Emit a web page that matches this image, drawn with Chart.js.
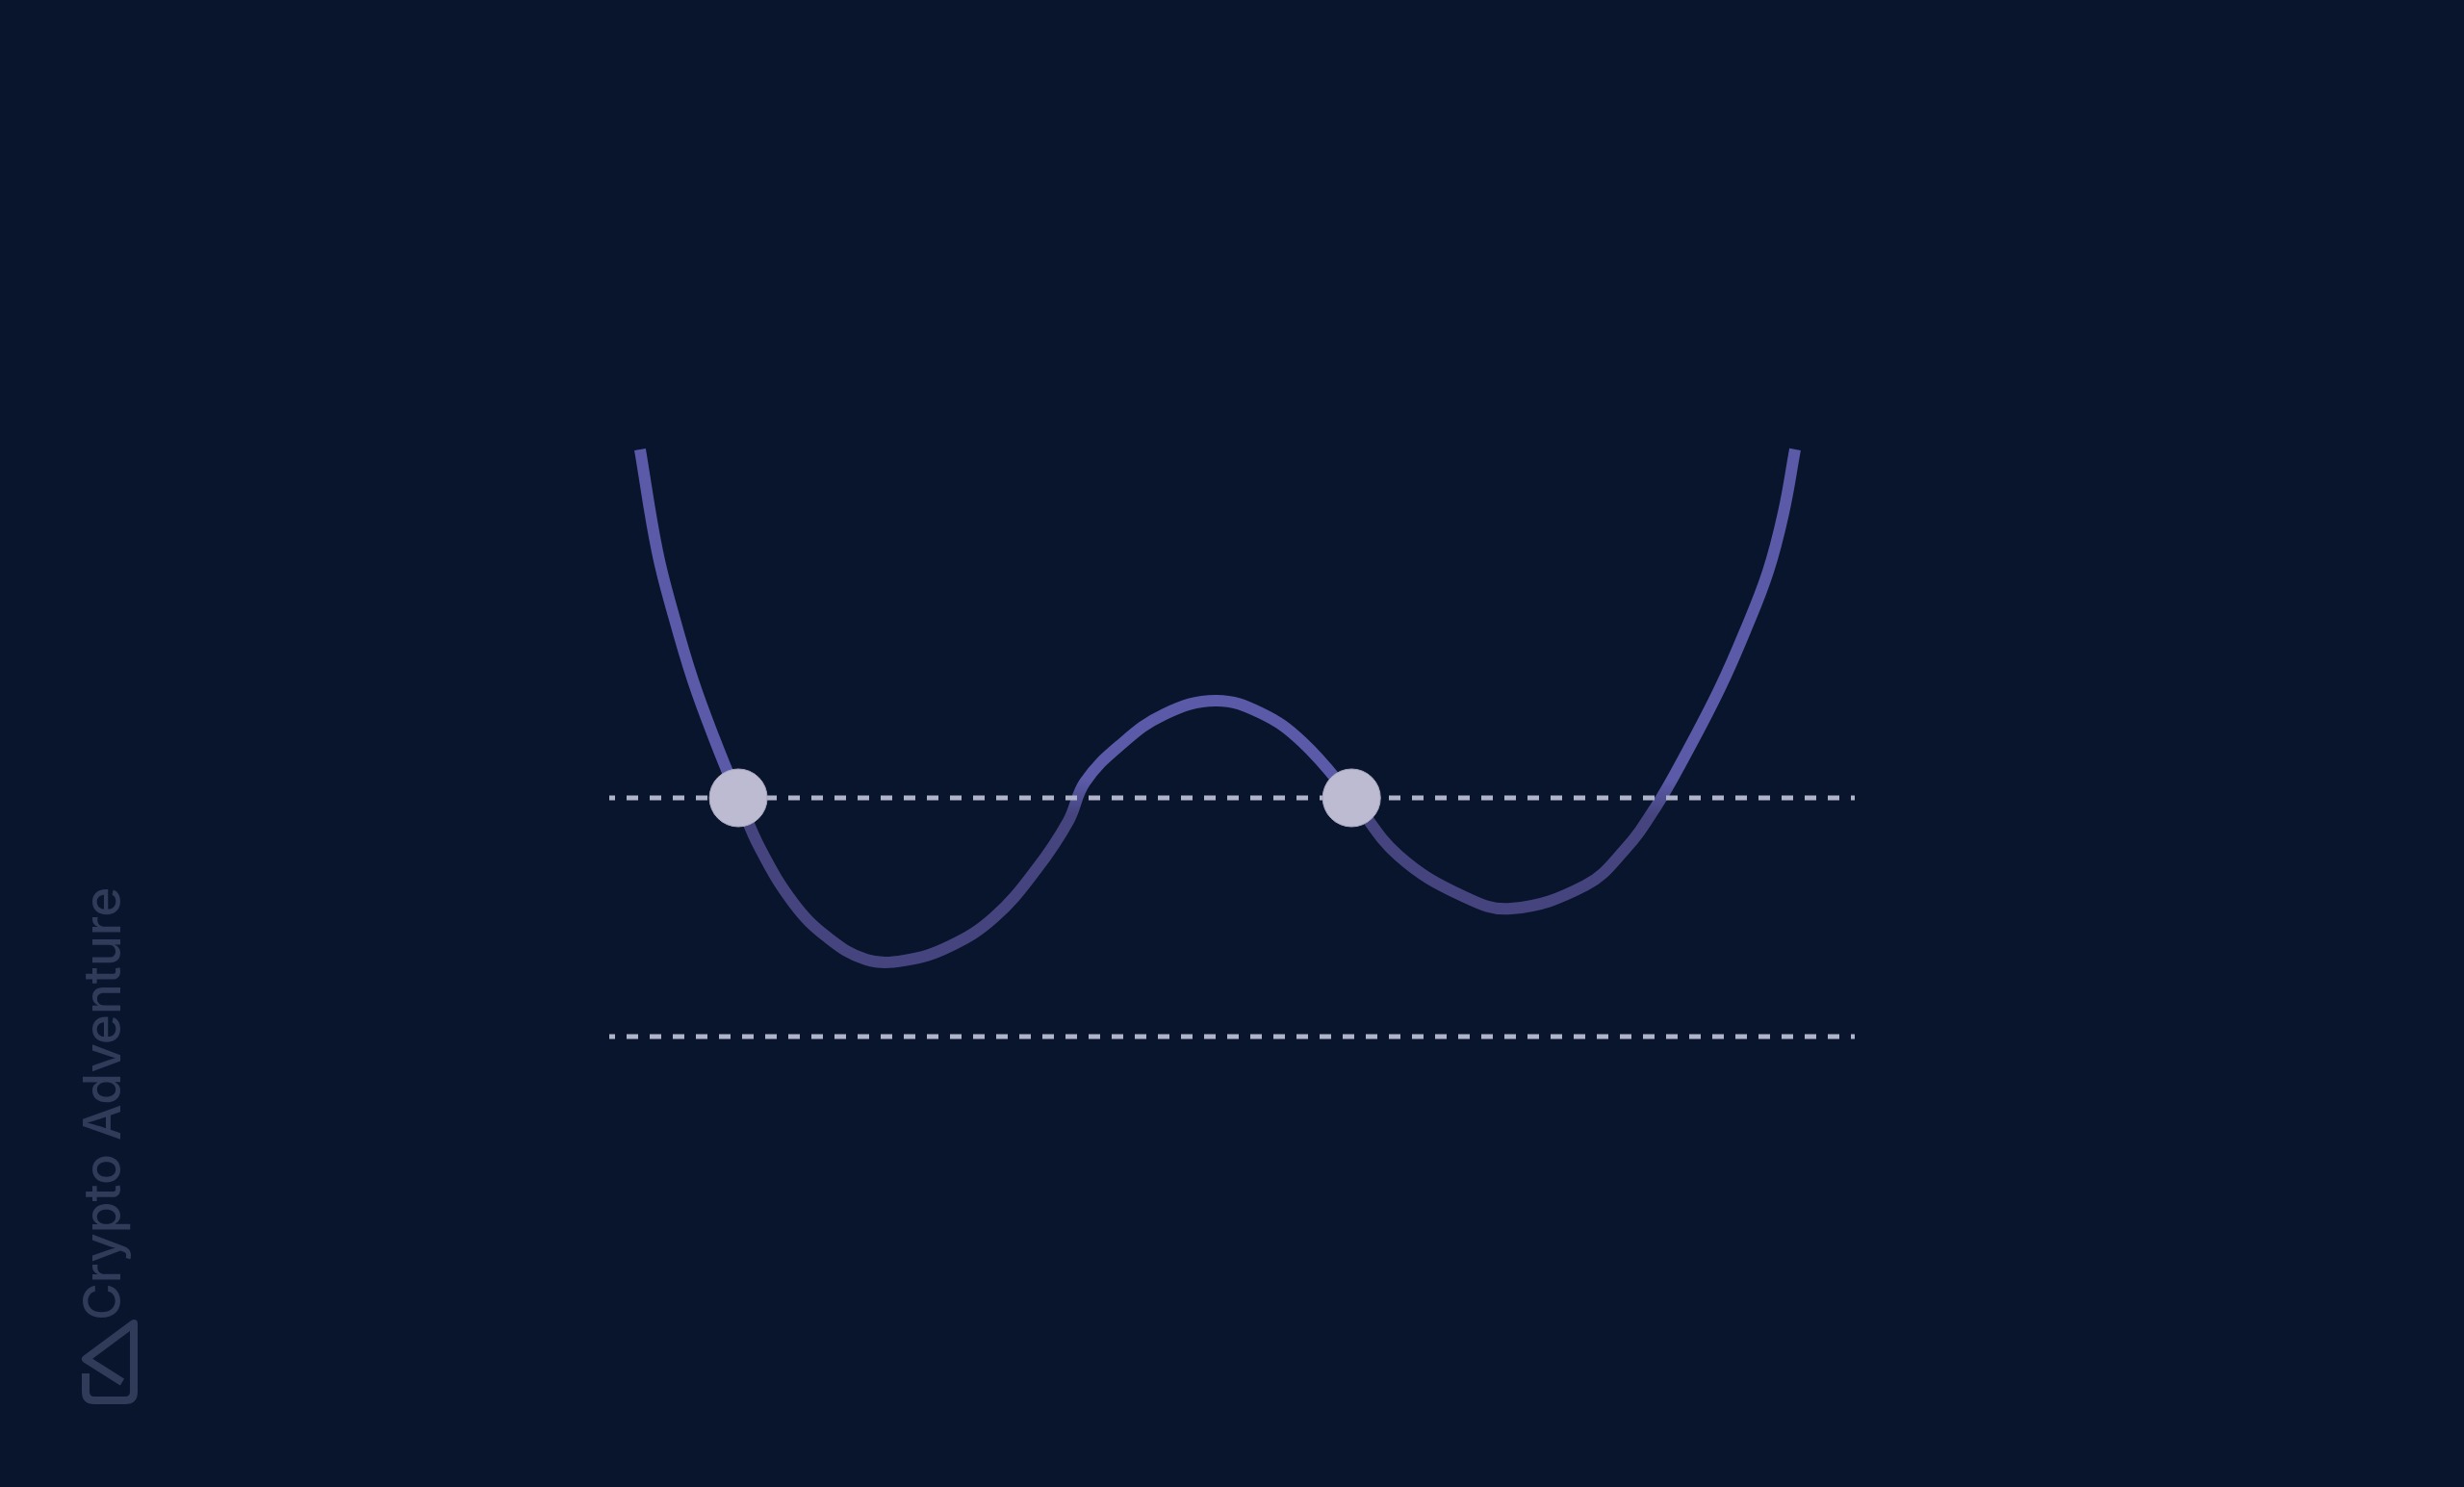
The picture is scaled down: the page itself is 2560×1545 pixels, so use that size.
<!DOCTYPE html>
<html lang="en">
<head>
  <meta charset="UTF-8">
  <title>Double Well</title>
  <script src="https://cdn.jsdelivr.net/npm/chart.js"></script>
  <style>
    html, body {
      margin: 0;
      padding: 0;
      background: #08152d;
      overflow: hidden;
    }
    .wrap {
      width: 2560px;
      height: 1545px;
      position: relative;
    }
  </style>
</head>
<body>
  <div class="wrap">
    <canvas id="wellChart"></canvas>
  </div>

  <script>
    // curve (x: 0..100 across the dashed lines, y: 0 = upper line, -1 = lower line)
    const curveX = [2.47, 3.86, 5.18, 6.72, 8.42, 10.36, 12.13, 14.84, 17.54, 20.63, 23.72, 27.36, 30.91, 34.31,
      36.86, 38.18, 40.96, 44.59, 48.69, 52.32, 55.64, 59.6, 63.37, 68.55, 72.4, 78.36, 81.45, 84.00,
      86.55, 89.18, 91.19, 93.04, 94.28, 95.21];
    const curveY = [1.460, 1.032, 0.762, 0.492, 0.250, 0.000, -0.214, -0.444, -0.585, -0.677, -0.681, -0.621,
      -0.500, -0.298, -0.097, 0.065, 0.218, 0.351, 0.407, 0.355, 0.234, 0.000, -0.242, -0.412, -0.464,
      -0.367, -0.222, -0.040, 0.194, 0.460, 0.698, 0.948, 1.194, 1.460];

    // two dashed reference levels
    const levelX = [0, 100];
    const upperLevel = [0, 0];
    const lowerLevel = [-1, -1];

    // balls sitting on the upper level
    const ballX = [10.36, 59.6];
    const ballY = [0, 0];

    const pairs = (xs, ys) => xs.map((x, i) => ({ x: x, y: ys[i] }));

    // curve is lighter above the upper level, darker below
    function curveColor(context) {
      const chart = context.chart;
      if (!chart.chartArea) return '#5a5aa8';
      const y0 = chart.scales.y.getPixelForValue(0);
      const g = chart.ctx.createLinearGradient(0, y0 - 18, 0, y0 + 18);
      g.addColorStop(0, '#5a5aa8');
      g.addColorStop(1, '#45447e');
      return g;
    }

    const background = {
      id: 'background',
      beforeDraw(chart) {
        const c = chart.ctx;
        c.save();
        c.fillStyle = '#08152d';
        c.fillRect(0, 0, chart.width, chart.height);
        c.restore();
      },
      afterDraw(chart) {
        // watermark
        const c = chart.ctx;
        c.save();
        c.fillStyle = '#2f3b58';
        c.font = '500 53px Inter, "Noto Sans", sans-serif';
        c.translate(125, 1372);
        c.rotate(-Math.PI / 2);
        c.textAlign = 'left';
        c.textBaseline = 'alphabetic';
        c.fillText('Crypto Adventure', 0, 0);
        c.restore();

        c.save();
        c.strokeStyle = '#2f3b58';
        c.lineWidth = 8;
        c.lineJoin = 'round';
        c.beginPath();
        c.moveTo(89, 1427);
        c.lineTo(89, 1446);
        c.quadraticCurveTo(89, 1455, 98, 1455);
        c.lineTo(130, 1455);
        c.quadraticCurveTo(139, 1455, 139, 1446);
        c.lineTo(139, 1375);
        c.lineTo(89, 1412);
        c.lineTo(127, 1436);
        c.stroke();
        c.restore();
      }
    };

    const ctx = document.getElementById('wellChart').getContext('2d');
    new Chart(ctx, {
      type: 'scatter',
      data: {
        datasets: [
          {
            label: 'balls',
            data: pairs(ballX, ballY),
            pointRadius: 30,
            pointBackgroundColor: '#bdbbd1',
            pointBorderColor: '#a9a7c2',
            pointBorderWidth: 1,
            showLine: false,
            order: 0
          },
          {
            label: 'upper',
            data: pairs(levelX, upperLevel),
            showLine: true,
            borderColor: '#b0b4ca',
            borderWidth: 5,
            borderDash: [12, 12],
            borderDashOffset: 6,
            borderCapStyle: 'butt',
            pointRadius: 0,
            order: 1
          },
          {
            label: 'lower',
            data: pairs(levelX, lowerLevel),
            showLine: true,
            borderColor: '#b0b4ca',
            borderWidth: 5,
            borderDash: [12, 12],
            borderDashOffset: 6,
            borderCapStyle: 'butt',
            pointRadius: 0,
            order: 1
          },
          {
            label: 'curve',
            data: pairs(curveX, curveY),
            showLine: true,
            borderColor: curveColor,
            borderWidth: 12,
            borderCapStyle: 'butt',
            borderJoinStyle: 'round',
            tension: 0.4,
            pointRadius: 0,
            order: 2
          }
        ]
      },
      options: {
        responsive: true,
        maintainAspectRatio: false,
        animation: false,
        layout: { padding: 0, autoPadding: false },
        plugins: {
          legend: { display: false },
          tooltip: { enabled: false }
        },
        scales: {
          x: { type: 'linear', min: -48.918, max: 148.918, display: false },
          y: { type: 'linear', min: -2.8871, max: 3.3427, display: false }
        }
      },
      plugins: [background]
    });
  </script>
</body>
</html>
